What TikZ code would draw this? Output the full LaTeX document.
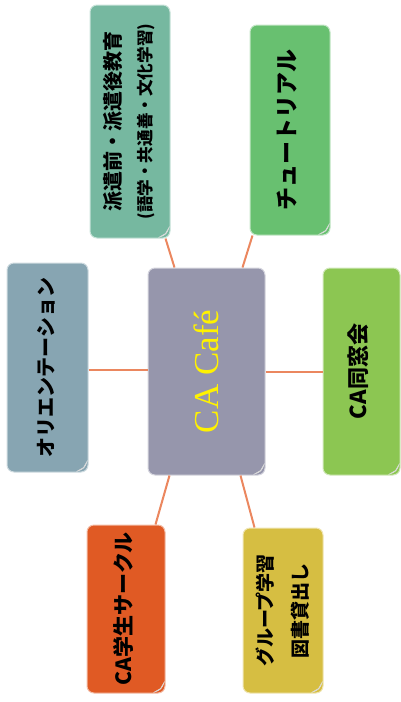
\documentclass[tikz,border=0pt]{standalone}
\usepackage{fontspec}
\usepackage{graphicx}
\setmainfont{Liberation Serif}
\newfontfamily\jpfont{Noto Sans CJK JP}
\usetikzlibrary{calc}
\definecolor{PrepTeal}{RGB}{118,184,160}
\definecolor{TutGreen}{RGB}{104,192,112}
\definecolor{CafeGray}{RGB}{150,150,172}
\definecolor{OrientBlue}{RGB}{135,165,178}
\definecolor{AlumGreen}{RGB}{140,198,82}
\definecolor{CircOrange}{RGB}{224,90,36}
\definecolor{GroupYellow}{RGB}{214,190,66}
\definecolor{LinkOrange}{RGB}{235,135,95}
\newcommand{\vtext}[1]{\rotatebox{90}{\begin{tabular}{@{}c@{}}#1\end{tabular}}}

\begin{document}
\begin{tikzpicture}[
  x=1pt, y=-1pt,
  topic/.style={
    rectangle,
    rounded corners=7pt,
    inner sep=0pt,
    draw=white!60!#1,
    line width=1pt,
    fill=#1,
    font=\jpfont\bfseries\fontsize{20}{31}\selectfont
  },
  link/.style={draw=LinkOrange, line width=2pt},
  curl/.style={fill=white, draw=gray!30, line width=0.4pt}
]
\useasboundingbox (0,0) rectangle (400,702);

% Centre
\node[topic=CafeGray, minimum width=117pt, minimum height=207pt,
  font=\fontsize{35}{40}\selectfont\color{yellow}] (cafe) at (206.5,371.5)
  {\rotatebox{90}{CA Café}};

% Surrounding topics
\node[topic=PrepTeal, minimum width=80pt, minimum height=233pt] (prep) at (130,121.5)
  {\vtext{派遣前・派遣後教育\\{\fontsize{16.6}{16}\selectfont (語学・共通善・文化学習)}}};
\node[topic=TutGreen, minimum width=80pt, minimum height=210pt,
  font=\jpfont\bfseries\fontsize{23}{28}\selectfont] (tutorial) at (290,130)
  {\vtext{チュートリアル}};
\node[topic=OrientBlue, minimum width=81pt, minimum height=209pt] (orient) at (47.5,367.5)
  {\vtext{オリエンテーション}};
\node[topic=AlumGreen, minimum width=77pt, minimum height=207pt,
  font=\jpfont\bfseries\fontsize{22}{26}\selectfont] (alumni) at (361.5,371.5)
  {\vtext{CA同窓会}};
\node[topic=CircOrange, minimum width=78pt, minimum height=168pt,
  font=\jpfont\bfseries\fontsize{21}{25}\selectfont] (circle) at (126,609)
  {\vtext{CA学生サークル}};
\node[topic=GroupYellow, minimum width=80pt, minimum height=165pt,
  font=\jpfont\bfseries\fontsize{19}{35}\selectfont] (group) at (283,610.5)
  {\vtext{グループ学習\\図書貸出し}};

% Page curls
\foreach \n in {cafe,prep,tutorial,orient,alumni,circle,group}
  \draw[curl] ($(\n.south east)+(-12,-1)$) .. controls ($(\n.south east)+(-4,-4)$) .. ($(\n.south east)+(-1,-12)$)
    -- ($(\n.south east)+(-5,-5)$) -- cycle;

% Links
\draw[link] ($(prep.south east)+(-5,0)$) -- ($(cafe.north west)+(27,0)$);
\draw[link] ($(tutorial.south west)+(3,0)$) -- ($(cafe.north east)+(-23,0)$);
\draw[link] (orient.east |- 0,370) -- (cafe.west |- 0,370);
\draw[link] (cafe.east |- 0,372) -- (alumni.west |- 0,372);
\draw[link] ($(cafe.south west)+(22,0)$) -- ($(circle.north east)+(-10,0)$);
\draw[link] ($(cafe.south east)+(-25,0)$) -- ($(group.north west)+(12,0)$);
\end{tikzpicture}
\end{document}
